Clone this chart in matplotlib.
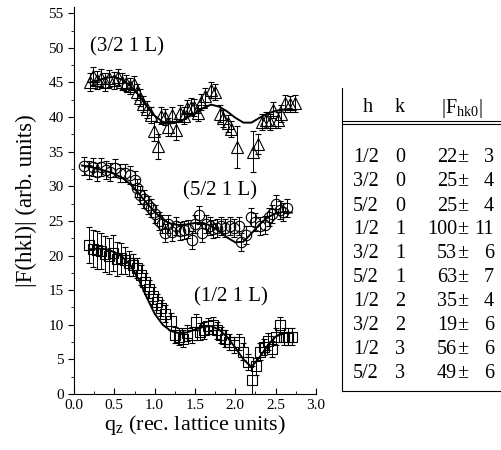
import numpy as np
import matplotlib
matplotlib.use("Agg")
import matplotlib.pyplot as plt
from matplotlib.lines import Line2D
from matplotlib.ticker import MultipleLocator

plt.rcParams['font.family'] = ['Liberation Serif', 'DejaVu Serif']
plt.rcParams['mathtext.fontset'] = 'custom'
plt.rcParams['mathtext.rm'] = 'Liberation Serif'

# (3/2 1 L) rod: measured points, errors and fit
tri_q = [0.20, 0.24, 0.29, 0.34, 0.39, 0.44, 0.49, 0.54, 0.59, 0.64, 0.69, 0.74,
         0.78, 0.82, 0.86, 0.90, 0.95, 0.99, 1.04, 1.08, 1.13, 1.17, 1.22, 1.26,
         1.31, 1.36, 1.40, 1.45, 1.49, 1.54, 1.58, 1.63, 1.70, 1.75, 1.81, 1.85,
         1.91, 1.95, 2.02, 2.22, 2.28, 2.33, 2.38, 2.43, 2.47, 2.53, 2.57, 2.62,
         2.68, 2.74]
tri_f = [45.0, 46.0, 45.3, 45.7, 45.0, 45.6, 45.3, 45.8, 45.1, 44.9, 44.5, 44.8,
         43.6, 42.8, 41.9, 41.1, 40.3, 38.0, 35.8, 40.2, 40.0, 38.6, 40.3, 38.2,
         40.6, 40.2, 41.3, 41.5, 41.4, 40.6, 42.2, 43.0, 43.9, 43.6, 40.5, 39.8,
         39.1, 38.3, 35.7, 35.0, 36.1, 39.3, 39.6, 39.3, 41.0, 39.6, 40.5, 42.0,
         41.9, 42.0]
tri_err = [1.3, 1.3, 1.3, 1.3, 1.3, 1.2, 1.2, 1.2, 1.2, 1.2, 1.2, 1.2,
           1.2, 1.2, 1.2, 1.2, 1.2, 1.5, 1.8, 1.2, 1.2, 1.3, 1.2, 1.5,
           1.2, 1.2, 1.2, 1.2, 1.2, 1.2, 1.2, 1.2, 1.2, 1.2, 1.2, 1.2,
           1.2, 1.2, 3.0, 3.0, 1.5, 1.2, 1.2, 1.2, 1.2, 1.2, 1.2, 1.2,
           1.2, 1.2]
tri_fit_q = [0.2, 0.3, 0.4, 0.5, 0.6, 0.7, 0.8, 0.9, 1.0, 1.1, 1.2, 1.3, 1.4,
             1.5, 1.6, 1.7, 1.8, 1.9, 2.0, 2.1, 2.2, 2.3, 2.4, 2.5, 2.6, 2.7]
tri_fit_f = [45.0, 45.3, 45.7, 45.8, 45.4, 44.5, 43.2, 41.6, 40.2, 39.3, 39.1,
             39.3, 39.9, 40.6, 41.3, 41.8, 41.5, 40.8, 39.9, 39.2, 39.2, 39.9,
             40.5, 40.9, 41.1, 41.2]

# (5/2 1 L) rod
circ_q = [0.12, 0.18, 0.24, 0.28, 0.34, 0.40, 0.45, 0.51, 0.57, 0.63, 0.69, 0.75,
          0.78, 0.82, 0.87, 0.92, 0.96, 1.01, 1.05, 1.09, 1.13, 1.17, 1.22, 1.27,
          1.31, 1.36, 1.41, 1.46, 1.50, 1.55, 1.59, 1.64, 1.68, 1.72, 1.77, 1.82,
          1.87, 1.93, 1.98, 2.04, 2.07, 2.13, 2.20, 2.25, 2.31, 2.37, 2.42, 2.46,
          2.50, 2.55, 2.59, 2.64]
circ_f = [33.0, 32.3, 32.8, 32.1, 32.8, 32.3, 32.1, 32.6, 31.9, 31.9, 31.6, 30.9,
          29.7, 28.7, 28.2, 27.3, 26.8, 26.0, 25.0, 24.6, 23.2, 24.5, 23.4, 24.2,
          23.5, 23.7, 23.9, 22.2, 24.5, 25.8, 23.2, 24.6, 24.3, 23.8, 24.0, 24.2,
          24.0, 24.2, 24.0, 24.2, 22.0, 23.0, 25.6, 24.9, 24.2, 24.4, 25.5, 26.0,
          27.5, 26.6, 26.3, 26.8]
circ_err = [1.3] * len(circ_q)
circ_fit_q = [0.1, 0.2, 0.3, 0.4, 0.5, 0.6, 0.7, 0.8, 0.9, 1.0, 1.1, 1.2, 1.3,
              1.4, 1.5, 1.6, 1.7, 1.8, 1.9, 2.0, 2.1, 2.2, 2.3, 2.4, 2.5, 2.6, 2.7]
circ_fit_f = [33.0, 32.8, 32.5, 32.2, 31.8, 31.2, 30.3, 29.0, 27.6, 26.3, 25.2,
              24.6, 24.4, 24.5, 24.7, 24.7, 24.3, 23.5, 22.6, 21.9, 22.0, 23.2,
              24.5, 25.5, 26.1, 26.3, 26.2]

# (1/2 1 L) rod
sq_q = [0.18, 0.23, 0.28, 0.33, 0.38, 0.43, 0.48, 0.53, 0.58, 0.63, 0.68, 0.73,
        0.78, 0.83, 0.88, 0.93, 0.98, 1.03, 1.08, 1.13, 1.20, 1.25, 1.30, 1.35,
        1.40, 1.46, 1.51, 1.56, 1.61, 1.66, 1.72, 1.77, 1.82, 1.87, 1.92, 1.98,
        2.04, 2.10, 2.16, 2.21, 2.26, 2.31, 2.36, 2.41, 2.46, 2.51, 2.55, 2.60,
        2.65, 2.70]
sq_f = [21.5, 21.0, 20.8, 20.6, 20.2, 20.0, 20.3, 19.5, 19.6, 19.3, 18.9, 18.6,
        18.2, 17.2, 16.2, 15.2, 14.2, 13.3, 12.4, 11.6, 10.5, 8.5, 8.3, 8.0,
        8.8, 8.5, 10.4, 9.0, 9.2, 9.8, 9.9, 9.2, 8.5, 8.0, 7.5, 7.1,
        7.5, 6.1, 4.6, 2.0, 4.0, 6.1, 6.8, 7.6, 6.5, 8.3, 9.9, 8.3,
        8.3, 8.3]
sq_err = [2.6, 2.7, 2.7, 2.6, 2.6, 2.6, 2.6, 2.4, 2.2, 2.0, 1.8, 1.6,
          1.5, 1.4, 1.3, 1.3, 1.2, 1.2, 1.2, 1.2, 1.2, 1.2, 1.2, 1.2,
          1.2, 1.2, 1.2, 1.2, 1.2, 1.2, 1.2, 1.2, 1.2, 1.2, 1.2, 1.2,
          1.2, 1.2, 1.2, 2.0, 1.2, 1.2, 1.2, 1.2, 1.2, 1.2, 1.2, 1.2,
          1.2, 1.2]
sq_fit_q = [0.2, 0.3, 0.4, 0.5, 0.6, 0.7, 0.8, 0.9, 1.0, 1.1, 1.2, 1.3, 1.4,
            1.5, 1.6, 1.7, 1.8, 1.9, 2.0, 2.1, 2.2, 2.3, 2.4, 2.5, 2.6, 2.7]
sq_fit_f = [20.9, 21.0, 20.9, 20.5, 19.8, 18.6, 16.6, 14.0, 11.6, 10.0, 9.1,
            8.8, 8.9, 9.3, 9.7, 9.8, 9.3, 8.2, 6.7, 5.0, 3.9, 5.3, 7.0, 8.3,
            8.8, 8.8]

# in-plane structure factors
tab_h = ['1/2', '3/2', '5/2', '1/2', '3/2', '5/2', '1/2', '3/2', '1/2', '5/2']
tab_k = ['0', '0', '0', '1', '1', '1', '2', '2', '3', '3']
tab_f = ['22', '25', '25', '100', '53', '63', '35', '19', '56', '49']
tab_e = ['3', '4', '4', '11', '6', '7', '4', '6', '6', '6']

W, H = 501, 450
fig = plt.figure(figsize=(W / 100, H / 100), dpi=100)
ax = fig.add_axes([74 / W, 1 - 394 / H, 242 / W, 387 / H])

style = dict(mfc='none', mec='black', mew=0.8, ecolor='black', elinewidth=0.7,
             capsize=2, capthick=0.7, ls='none')
ax.errorbar(tri_q, tri_f, yerr=tri_err, fmt='^', ms=8, **style)
ax.errorbar(circ_q, circ_f, yerr=circ_err, fmt='o', ms=7.5, **style)
ax.errorbar(sq_q, sq_f, yerr=sq_err, fmt='s', ms=6.5, **style)
for q, f in [(tri_fit_q, tri_fit_f), (circ_fit_q, circ_fit_f), (sq_fit_q, sq_fit_f)]:
    ax.plot(q, f, color='black', lw=1.4)

ax.text(0.66, 50.1, '(3/2 1 L)', fontsize=15, ha='center', va='center')
ax.text(1.81, 29.4, '(5/2 1 L)', fontsize=15, ha='center', va='center')
ax.text(1.95, 14.0, '(1/2 1 L)', fontsize=15, ha='center', va='center')

ax.set_xlim(0, 3.0)
ax.set_ylim(0, 55.9)
ax.xaxis.set_major_locator(MultipleLocator(0.5))
ax.xaxis.set_minor_locator(MultipleLocator(0.25))
ax.yaxis.set_major_locator(MultipleLocator(5))
ax.yaxis.set_minor_locator(MultipleLocator(2.5))
ax.spines['top'].set_visible(False)
ax.spines['right'].set_visible(False)
ax.tick_params(axis='x', which='both', direction='in', labelsize=11)
ax.tick_params(axis='x', which='major', length=4)
ax.tick_params(axis='x', which='minor', length=2)
ax.tick_params(axis='y', which='both', direction='out', labelsize=11)
ax.tick_params(axis='y', which='major', length=4)
ax.tick_params(axis='y', which='minor', length=2)
ax.set_xticklabels(['%.1f' % v for v in ax.get_xticks()])
ax.set_xlabel(r'$\mathregular{q_z}$ (rec. lattice units)', fontsize=16, labelpad=1)
ax.set_ylabel('|F(hkl)| (arb. units)', fontsize=16.5, labelpad=8)


def fx(px):
    return px / W


def fy(py):
    return 1 - py / H


# table frame
for y0 in (121, 124, 391):
    fig.add_artist(Line2D([fx(341.5), fx(501)], [fy(y0), fy(y0)], color='black', lw=0.8))
fig.add_artist(Line2D([fx(341.5), fx(341.5)], [fy(88), fy(391)], color='black', lw=0.8))

fs = 14.5
fig.text(fx(368), fy(108), 'h', fontsize=fs, ha='center', va='center')
fig.text(fx(400), fy(108), 'k', fontsize=fs, ha='center', va='center')
fig.text(fx(462), fy(108), r'$\mathregular{|F_{hk0}|}$', fontsize=fs, ha='center', va='center')

for i in range(len(tab_h)):
    y = fy(158 + 24 * i)
    fig.text(fx(366), y, tab_h[i], fontsize=fs, ha='center', va='center')
    fig.text(fx(400), y, tab_k[i], fontsize=fs, ha='center', va='center')
    fig.text(fx(457), y, tab_f[i], fontsize=fs, ha='right', va='center')
    fig.text(fx(457), y, '\u00b1', fontsize=fs, ha='left', va='center')
    fig.text(fx(494), y, tab_e[i], fontsize=fs, ha='right', va='center')

fig.savefig('out.png', dpi=100)
